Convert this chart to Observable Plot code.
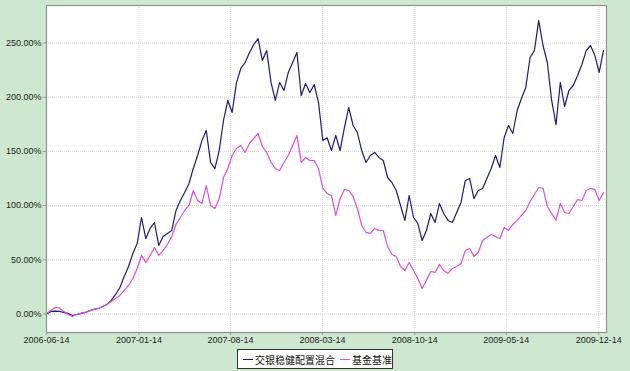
<!DOCTYPE html>
<html>
<head>
<meta charset="utf-8">
<script src="https://cdn.jsdelivr.net/npm/d3@7"></script>
<script src="https://cdn.jsdelivr.net/npm/@observablehq/plot@0.6"></script>
<style>
  html, body { margin: 0; padding: 0; background: #cde8cf; }
  #wrap { position: relative; width: 630px; height: 371px; background: #cde8cf; font-family: "Liberation Sans", Arial, sans-serif; }
  #legend { position: absolute; left: 237px; top: 349px; width: 154px; height: 18px; border: 1px solid #333; background: #fff;
    display: flex; align-items: center; font-family: "Noto Sans CJK SC", sans-serif; font-size: 10px; color: #111; white-space: nowrap; }
  .sw { display: inline-block; width: 11px; height: 0; border-top: 1.5px solid; margin: 0 2px 0 5px; }
</style>
</head>
<body>
<div id="wrap"><div id="chart"></div><div id="legend"></div></div>
<script>
// Series names
const seriesNames = ["交银稳健配置混合", "基金基准"];
const seriesColors = ["#1c1c7c", "#e04ce0"];
// Observation dates: every 10 days starting 2006-06-14
const startDate = "2006-06-14";
const stepDays = 10;
// Cumulative return (%) — fund
const fundValues = [
  0, 2.3, 2.6, 2.3, 1.4, 0.5, -1.4, -0.5, 0.5, 1.4,
  3.2, 4.2, 5.1, 6.9, 8.8, 12.5, 18, 24.4, 34.6, 43.8,
  55.8, 65, 89, 69.6, 78.9, 84.4, 63.2, 71.5, 74.3, 77,
  95.5, 104.7, 112, 120.4, 134.2, 146.2, 160, 169.3, 139.8, 134,
  150.8, 178.5, 197, 185.9, 213.5, 226.5, 232, 241, 248.6, 254,
  234, 243, 213.6, 197, 213.6, 206.2, 222.8, 232, 241.2, 201.5,
  212.6, 204.3, 211.7, 195, 160, 162.6, 150.8, 164.7, 150.8, 172,
  190.5, 173.9, 167.4, 150.8, 139.8, 146.2, 149, 144.4, 141.6, 125.9,
  121.3, 113.9, 100.1, 86.3, 109.3, 89, 83.5, 67.8, 77, 92.7,
  84.4, 101.9, 92.7, 86.3, 84.4, 93.6, 102.9, 123.2, 125, 106.5,
  113.9, 115.8, 125, 134.2, 146.2, 135.1, 162.8, 173.9, 166.5, 187.7,
  198.8, 209, 236.6, 243, 270.7, 247.7, 232, 197, 174.7, 213.6,
  191.4, 206.2, 210.8, 220, 230.2, 243, 247.7, 238.5, 222.8, 243
];
// Cumulative return (%) — benchmark
const benchValues = [
  0.5, 3.2, 6, 5.5, 2.3, -0.5, -2.3, -0.5, 0.5, 1.4,
  2.8, 4.2, 5.1, 6.9, 8.8, 11.5, 14.3, 17.1, 21.7, 26.3,
  32.7, 42, 54, 47.5, 54, 61.3, 54, 58.6, 64.1, 71.5,
  82.6, 89, 95.5, 100.1, 113.9, 104.7, 101.9, 118.5, 100.1, 97.3,
  106.5, 125.9, 134.2, 146.2, 152.7, 155.4, 149, 157.3, 161.9, 166.5,
  154.5, 149, 139.8, 134.2, 132.4, 139.8, 146.2, 155.4, 164.7, 139.8,
  144.4, 141.6, 141.6, 134.2, 115.8, 111.2, 109.3, 90.9, 106.5, 114.9,
  113.9, 108.4, 97.3, 81.6, 75.2, 74.3, 78.9, 77, 77, 62.3,
  54.9, 53, 43.8, 40.1, 47.5, 40.1, 32.7, 23.5, 30.9, 39.2,
  38.3, 45.7, 40.1, 37.4, 42, 43.8, 46.6, 58.6, 60.4, 53,
  56.7, 67.8, 70.6, 73.3, 71.5, 69.6, 79.8, 77, 82.6, 86.3,
  90.9, 95.5, 103.8, 110.2, 116.7, 115.8, 99.2, 92.7, 86.3, 101.9,
  93.6, 92.7, 99.2, 105.6, 104.7, 113.9, 115.8, 114.9, 104.7, 112
];
// Axis ticks
const xTickLabels = ["2006-06-14", "2007-01-14", "2007-08-14", "2008-03-14", "2008-10-14", "2009-05-14", "2009-12-14"];
const yTickValues = [0, 50, 100, 150, 200, 250];
const xDomainLabels = ["2006-06-14", "2010-01-01"];
const yDomain = [-17.1, 284.6];

const parse = d3.utcParse("%Y-%m-%d");
const start = parse(startDate);
const rows = [];
[fundValues, benchValues].forEach((vals, s) => {
  vals.forEach((v, i) => rows.push({date: d3.utcDay.offset(start, i * stepDays), value: v, series: seriesNames[s]}));
});
const xTicks = xTickLabels.map(parse);

const chart = Plot.plot({
  width: 630,
  height: 347,
  marginLeft: 46,
  marginRight: 24,
  marginTop: 5,
  marginBottom: 15,
  style: {background: "transparent", fontFamily: "'Liberation Sans', Arial, sans-serif", fontSize: "9px", color: "#222"},
  x: {type: "utc", domain: xDomainLabels.map(parse)},
  y: {domain: yDomain},
  color: {domain: seriesNames, range: seriesColors},
  marks: [
    Plot.rect([0], {x1: () => parse(xDomainLabels[0]), x2: () => parse(xDomainLabels[1]), y1: yDomain[0], y2: yDomain[1], fill: "#fff"}),
    Plot.gridX(xTicks, {stroke: "#d6d6d6", strokeOpacity: 1, strokeDasharray: "1,1"}),
    Plot.gridY(yTickValues, {stroke: "#d6d6d6", strokeOpacity: 1, strokeDasharray: "1,1"}),
    Plot.line(rows, {x: "date", y: "value", z: "series", stroke: "series", strokeWidth: 1.2}),
    Plot.frame({stroke: "#8a948a", strokeWidth: 1.2}),
    Plot.axisY(yTickValues, {tickSize: 3, tickPadding: 2, tickFormat: d => d.toFixed(2) + "%", label: null, stroke: "#999", fill: "#222"}),
    Plot.axisX(xTicks, {tickSize: 3, tickPadding: 1, tickFormat: d3.utcFormat("%Y-%m-%d"), label: null, stroke: "#999", fill: "#222"})
  ]
});
document.getElementById("chart").appendChild(chart);

const legend = document.getElementById("legend");
seriesNames.forEach((name, i) => {
  const sw = document.createElement("span");
  sw.className = "sw";
  sw.style.borderTopColor = seriesColors[i];
  legend.appendChild(sw);
  const t = document.createElement("span");
  t.textContent = name;
  legend.appendChild(t);
});
</script>
</body>
</html>
